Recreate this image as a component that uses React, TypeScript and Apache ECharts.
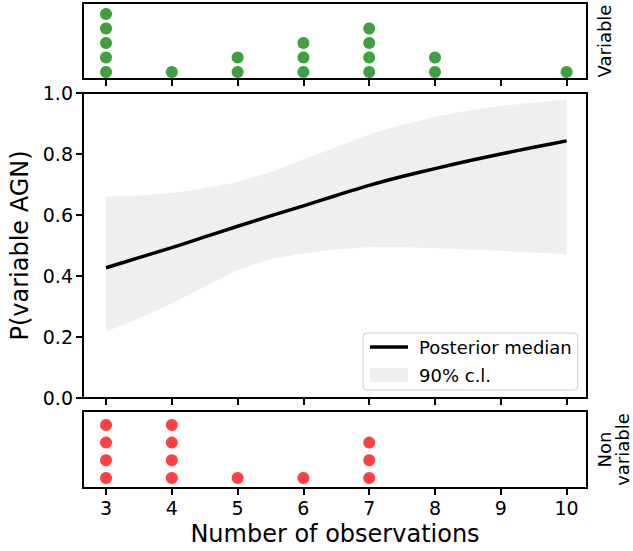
import React, { useEffect, useRef } from "react";
import * as echarts from "echarts";

// Tick positions (number of observations)
const xTicks = [3, 4, 5, 6, 7, 8, 9, 10];
// Dot counts per number of observations
const variableCounts = [5, 1, 2, 3, 4, 2, 0, 1];
const nonVariableCounts = [4, 4, 1, 1, 3, 0, 0, 0];

// Posterior curve
const curveX = [3, 3.5, 4, 4.5, 5, 5.5, 6, 6.5, 7, 7.5, 8, 8.5, 9, 9.5, 10];
const median = [0.427, 0.46, 0.493, 0.528, 0.563, 0.597, 0.63, 0.664, 0.697, 0.726, 0.752, 0.777, 0.8, 0.822, 0.843];
const lower90 = [0.217, 0.261, 0.31, 0.365, 0.42, 0.456, 0.474, 0.487, 0.495, 0.494, 0.491, 0.487, 0.482, 0.477, 0.472];
const upper90 = [0.66, 0.664, 0.672, 0.688, 0.708, 0.74, 0.782, 0.822, 0.865, 0.895, 0.922, 0.942, 0.957, 0.969, 0.979];

const yTicksMain = [0, 0.2, 0.4, 0.6, 0.8, 1.0];

const FONT = "DejaVu Sans";
const GREEN = "#40a040";
const RED = "#ff4040";

function stackDots(counts: number[]) {
  const pts: number[][] = [];
  xTicks.forEach((x, i) => {
    for (let k = 1; k <= counts[i]; k++) pts.push([x, k]);
  });
  return pts;
}

export default function App() {
  const ref = useRef<HTMLDivElement>(null);
  useEffect(() => {
    document.body.style.margin = "0";
    if (!ref.current) return;
    const chart = echarts.init(ref.current, null, { renderer: "svg" });

    const X_MIN = 2.65;
    const X_MAX = 10.31;
    const gridCommon = {
      left: 83,
      width: 504,
      show: true,
      borderColor: "#000",
      borderWidth: 2,
      backgroundColor: "transparent",
      containLabel: false,
      outerBoundsMode: "none",
    };
    const tick = { show: true, length: 7, lineStyle: { color: "#000", width: 2 } };
    const makeX = (gridIndex: number, labels: boolean, name?: string) => ({
      type: "value",
      gridIndex,
      min: X_MIN,
      max: X_MAX,
      axisLine: { show: false },
      splitLine: { show: false },
      axisTick: { ...tick, customValues: xTicks },
      axisLabel: {
        show: labels,
        customValues: xTicks,
        fontSize: 19,
        fontFamily: FONT,
        color: "#000",
        margin: 10,
      },
      name: name,
      nameLocation: "middle",
      nameGap: 34,
      nameTextStyle: { fontSize: 24, fontFamily: FONT, color: "#000" },
    });

    const option: any = {
      animation: false,
      grid: [
        { ...gridCommon, top: 3, height: 76 },
        { ...gridCommon, top: 93, height: 305 },
        { ...gridCommon, top: 411, height: 77 },
      ],
      xAxis: [
        makeX(0, false),
        makeX(1, false),
        makeX(2, true, "Number of observations"),
      ],
      yAxis: [
        {
          type: "value",
          gridIndex: 0,
          position: "right",
          min: 0.52,
          max: 5.76,
          axisLine: { show: false },
          axisTick: { show: false },
          axisLabel: { show: false },
          splitLine: { show: false },
          name: "Variable",
          nameLocation: "middle",
          nameRotate: 90,
          nameGap: 8,
          nameTextStyle: { fontSize: 18, fontFamily: FONT, color: "#000" },
        },
        {
          type: "value",
          gridIndex: 1,
          min: 0,
          max: 1,
          interval: 0.2,
          axisLine: { show: false },
          axisTick: tick,
          splitLine: { show: false },
          axisLabel: {
            fontSize: 19,
            fontFamily: FONT,
            color: "#000",
            margin: 10,
            customValues: yTicksMain,
            formatter: (v: number) => v.toFixed(1),
          },
          name: "P(variable AGN)",
          nameLocation: "middle",
          nameGap: 48,
          nameTextStyle: { fontSize: 24, fontFamily: FONT, color: "#000" },
        },
        {
          type: "value",
          gridIndex: 2,
          position: "right",
          min: 0.43,
          max: 4.79,
          axisLine: { show: false },
          axisTick: { show: false },
          axisLabel: { show: false },
          splitLine: { show: false },
          name: "Non\nvariable",
          nameLocation: "middle",
          nameRotate: 90,
          nameGap: 8,
          nameTextStyle: { fontSize: 18, fontFamily: FONT, color: "#000", lineHeight: 18 },
        },
      ],
      legend: {
        left: 363,
        top: 333,
        orient: "vertical",
        padding: [5, 6, 6, 7],
        itemWidth: 38,
        itemHeight: 14,
        itemGap: 10,
        backgroundColor: "#fff",
        borderColor: "#cccccc",
        borderWidth: 1,
        borderRadius: 4,
        textStyle: { fontSize: 18, fontFamily: FONT, color: "#000", padding: [0, 0, 0, 6] },
        data: [
          { name: "Posterior median", icon: "path://M0,0M38,14M0,5.25H38V8.75H0Z", itemStyle: { color: "#000" } },
          { name: "90% c.l.", icon: "rect" },
        ],
      },
      series: [
        {
          type: "scatter",
          xAxisIndex: 0,
          yAxisIndex: 0,
          symbolSize: 12,
          itemStyle: { color: GREEN, opacity: 1 },
          data: stackDots(variableCounts),
          clip: false,
        },
        {
          name: "90% c.l.",
          type: "custom",
          xAxisIndex: 1,
          yAxisIndex: 1,
          z: 1,
          itemStyle: { color: "#efefef" },
          encode: { x: 0, y: [1, 2] },
          data: curveX.map((x, i) => [x, lower90[i], upper90[i]]),
          renderItem: (params: any, api: any) => {
            if (params.dataIndex !== 0) return { type: "group", children: [] };
            const pts: number[][] = [];
            for (let i = 0; i < curveX.length; i++) pts.push(api.coord([curveX[i], upper90[i]]));
            for (let i = curveX.length - 1; i >= 0; i--) pts.push(api.coord([curveX[i], lower90[i]]));
            return { type: "polygon", shape: { points: pts, smooth: 0 }, style: { fill: "#efefef" } };
          },
        },
        {
          name: "Posterior median",
          type: "line",
          xAxisIndex: 1,
          yAxisIndex: 1,
          z: 3,
          symbol: "none",
          smooth: 0.2,
          lineStyle: { color: "#000", width: 3.5 },
          itemStyle: { color: "#000" },
          data: curveX.map((x, i) => [x, median[i]]),
        },
        {
          type: "scatter",
          xAxisIndex: 2,
          yAxisIndex: 2,
          symbolSize: 12,
          itemStyle: { color: RED, opacity: 1 },
          data: stackDots(nonVariableCounts),
          clip: false,
        },
      ],
    };
    chart.setOption(option);
    return () => chart.dispose();
  }, []);
  return <div ref={ref} style={{ width: 633, height: 551 }} />;
}
